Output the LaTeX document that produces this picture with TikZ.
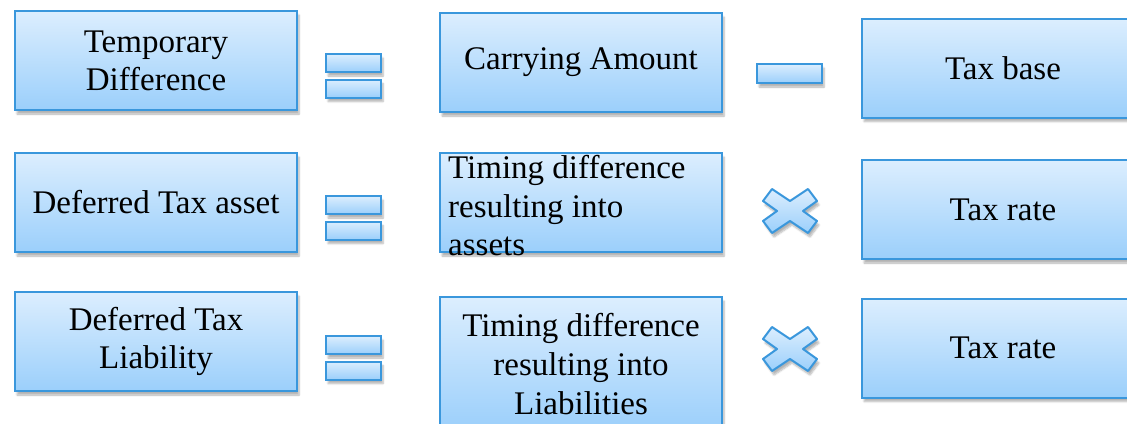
\documentclass[tikz,border=0pt]{standalone}
\usepackage{fontspec}
\setmainfont{Liberation Serif}
\usetikzlibrary{shadows.blur}

\definecolor{boxtop}{HTML}{DCEEFE}
\definecolor{boxbottom}{HTML}{9BCFFB}
\definecolor{boxline}{HTML}{3A97DC}

\tikzset{
  fillbox/.style={draw=boxline, line width=2pt, top color=boxtop, bottom color=boxbottom,
    blur shadow={shadow xshift=2pt, shadow yshift=-4pt, shadow opacity=30, shadow blur steps=6}},
  termbox/.style={fillbox, minimum width=282pt, minimum height=99pt, align=center,
    font=\fontsize{33}{38}\selectfont},
  barbox/.style={fillbox, minimum width=55pt, minimum height=18pt, inner sep=0pt},
}

\begin{document}
\begin{tikzpicture}[x=1pt, y=-1pt]
    \useasboundingbox (0,0) rectangle (1127,423);

    % Row 1: temporary difference
    \node[termbox] (temp) at (156,60.5) {Temporary\\Difference};
    \node[termbox] (carry) at (581,62.5) {Carrying Amount};
    \node[termbox] (taxbase) at (1003,68) {Tax base};

    % Row 2: deferred tax asset
    \node[termbox] (dta) at (156,202.5) {Deferred Tax asset};
    \node[termbox] (tdasset) at (581,202.5) {};
    \node[anchor=west, align=left, inner sep=0pt, font=\fontsize{33}{38.5}\selectfont]
        (tdassettext) at (448,206) {Timing difference\\resulting into\\assets};
    \node[termbox] (ratea) at (1003,209.5) {Tax rate};

    % Row 3: deferred tax liability
    \node[termbox] (dtl) at (156,341.5) {Deferred Tax\\Liability};
    \node[termbox, anchor=north, inner sep=16pt, font=\fontsize{33}{39}\selectfont]
        (tdliab) at (581,296) {Timing difference\\resulting into\\Liabilities};
    \node[termbox] (ratel) at (1003,348) {Tax rate};

    % Equals signs
    \foreach \y/\n in {63/1, 205/2, 345/3} {
        \node[barbox] (eq\n top) at (353.5,\y) {};
        \node[barbox] (eq\n bot) at (353.5,\y+25.5) {};
    }

    % Minus sign
    \node[barbox, minimum width=65pt, minimum height=19pt] (minus) at (789.5,73.5) {};

    % Multiply signs
    \foreach \y in {211,349} {
        \draw[fillbox, line join=round, shift={(790,\y)}]
            (0,-10) -- (18,-22) -- (27,-10) -- (13,0) -- (27,10) -- (18,22)
            -- (0,10) -- (-18,22) -- (-27,10) -- (-13,0) -- (-27,-10) -- (-18,-22) -- cycle;
    }
\end{tikzpicture}
\end{document}
